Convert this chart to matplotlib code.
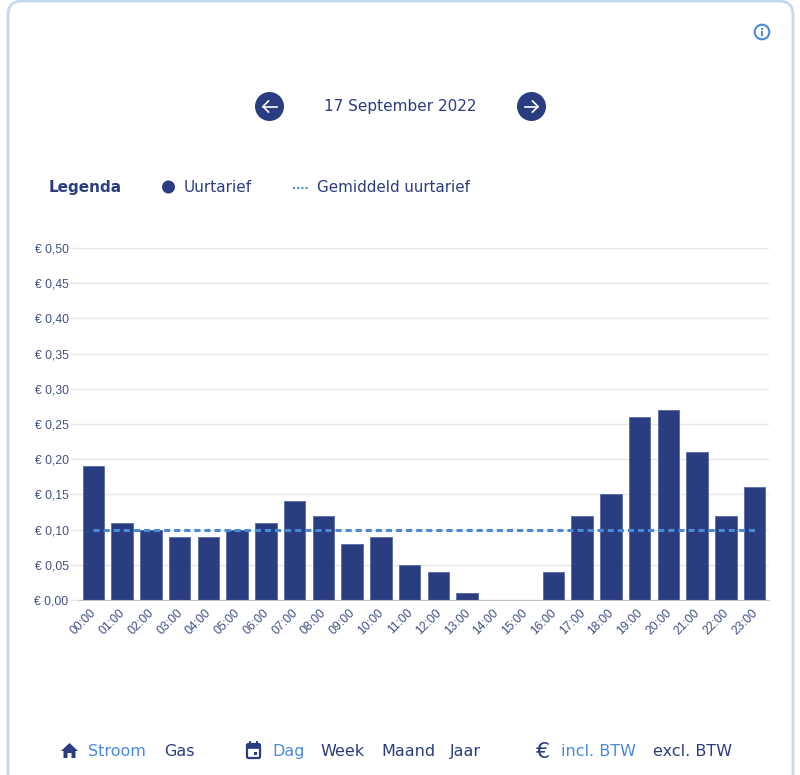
import matplotlib
matplotlib.use("Agg")
import matplotlib.pyplot as plt
import matplotlib.patches as mpatches
from matplotlib.transforms import ScaledTranslation

# data
hours = ["%02d:00" % h for h in range(24)]
prices = [0.19, 0.11, 0.10, 0.09, 0.09, 0.10, 0.11, 0.14, 0.12, 0.08, 0.09, 0.05,
          0.04, 0.01, 0.0, 0.0, 0.04, 0.12, 0.15, 0.26, 0.27, 0.21, 0.12, 0.16]
average = 0.10
y_ticks = [0.0, 0.05, 0.10, 0.15, 0.20, 0.25, 0.30, 0.35, 0.40, 0.45, 0.50]
y_labels = ["€ 0,00", "€ 0,05", "€ 0,10", "€ 0,15", "€ 0,20", "€ 0,25",
            "€ 0,30", "€ 0,35", "€ 0,40", "€ 0,45", "€ 0,50"]

navy = "#2a3d80"
blue = "#4a8ad8"
label_color = "#3f5088"
W, H = 800, 775

fig = plt.figure(figsize=(8, 7.75), dpi=100)

# page overlay in pixel coords
ui = fig.add_axes([0, 0, 1, 1], zorder=0)
ui.set_xlim(0, W)
ui.set_ylim(H, 0)
ui.axis("off")

card = mpatches.FancyBboxPatch((8, 1), 785, 900, boxstyle="round,pad=0,rounding_size=14",
                               fc="white", ec="#c4d9ef", lw=2)
ui.add_patch(card)

# info icon
ui.add_patch(mpatches.Circle((762, 32), 7.3, fc="white", ec=blue, lw=1.5))
ui.plot([762, 762], [31, 36], color=blue, lw=1.5, solid_capstyle="butt")
ui.plot([762, 762], [27.5, 29.5], color=blue, lw=1.5, solid_capstyle="butt")

# date navigation
ui.add_patch(mpatches.Circle((269.5, 106.5), 14.5, fc=navy, ec="none"))
ui.add_patch(mpatches.Circle((531.5, 106.5), 14.5, fc=navy, ec="none"))
for tail, tip, wing in [(276.5, 263, 268.5), (524.5, 538, 532.5)]:
    ui.plot([tail, tip], [106.5, 106.5], color="white", lw=1.2)
    ui.plot([wing, tip, wing], [101, 106.5, 112], color="white", lw=1.2)
ui.text(400.5, 107, "17 September 2022", color=navy, fontsize=11, ha="center", va="center")

# legend
ui.text(49, 187.5, "Legenda", color=navy, fontsize=11, fontweight="bold", va="center")
ui.add_patch(mpatches.Circle((168.5, 187), 6.5, fc=navy, ec="none"))
ui.text(184, 187.5, "Uurtarief", color=navy, fontsize=11, va="center")
ui.plot([292.5, 307.5], [187.5, 187.5], color=blue, lw=1.5, ls=(0, (1, 1)))
ui.text(317, 187.5, "Gemiddeld uurtarief", color=navy, fontsize=10.9, va="center")

# bottom menu
ui.add_patch(mpatches.Polygon([(61, 751), (69.5, 743), (78, 751), (75.5, 751), (75.5, 758),
                               (71.5, 758), (71.5, 753), (67.5, 753), (67.5, 758), (63.5, 758), (63.5, 751)],
                              fc=navy, ec="none"))
ui.add_patch(mpatches.FancyBboxPatch((247, 744), 13, 14, boxstyle="round,pad=0,rounding_size=1.5",
                                     fc="white", ec=navy, lw=1.6))
ui.add_patch(mpatches.Rectangle((247, 744), 13, 3.5, fc=navy, ec=navy, lw=0.5))
ui.add_patch(mpatches.Rectangle((254, 752), 3, 3, fc=navy, ec="none"))
ui.plot([250, 250], [741.5, 745], color=navy, lw=1.4)
ui.plot([257, 257], [741.5, 745], color=navy, lw=1.4)
ui.text(543, 751.5, "€", color=navy, fontsize=16, ha="center", va="center")

menu_x = [88, 164, 272, 320, 381, 450, 561, 653]
menu_text = ["Stroom", "Gas", "Dag", "Week", "Maand", "Jaar", "incl. BTW", "excl. BTW"]
menu_active = [True, False, True, False, False, False, True, False]
for x, txt, active in zip(menu_x, menu_text, menu_active):
    ui.text(x, 751.5, txt, color=blue if active else navy, fontsize=11.5, va="center")

# chart
left, right, top, bottom = 79, 769, 248, 600
ax = fig.add_axes([left / W, 1 - bottom / H, (right - left) / W, (bottom - top) / H], zorder=1)
ax.patch.set_alpha(0)
ax.bar(range(24), prices, width=0.74, color=navy, edgecolor="#5a6a9f", linewidth=0.6, zorder=2)
ax.plot(range(24), [average] * 24, color=blue, lw=2.2, ls=(0, (2, 1.3)), zorder=3)
ax.set_xlim(-0.5, 23.5)
ax.set_ylim(0, 0.5)
ax.set_yticks(y_ticks)
ax.set_yticklabels(y_labels, fontfamily="Liberation Sans", fontsize=8.7, color=label_color)
ax.set_xticks(range(24))
ax.set_xticklabels(hours, fontfamily="Liberation Sans", fontsize=8.7, color=label_color,
                   rotation=45, ha="right", rotation_mode="anchor")
ax.tick_params(axis="x", length=0, pad=5)
ax.tick_params(axis="y", length=6.5, width=1, color="#e6e6e6", pad=1)
nudge = ScaledTranslation(-3 / 100, 0, fig.dpi_scale_trans)
for lab in ax.get_xticklabels():
    lab.set_transform(lab.get_transform() + nudge)
ax.grid(axis="y", color="#e6e6e6", lw=1, zorder=0)
ax.set_axisbelow(True)
for name in ["top", "left", "right"]:
    ax.spines[name].set_visible(False)
ax.spines["bottom"].set_color("#c0c0c8")

fig.savefig("out.png", dpi=100)
